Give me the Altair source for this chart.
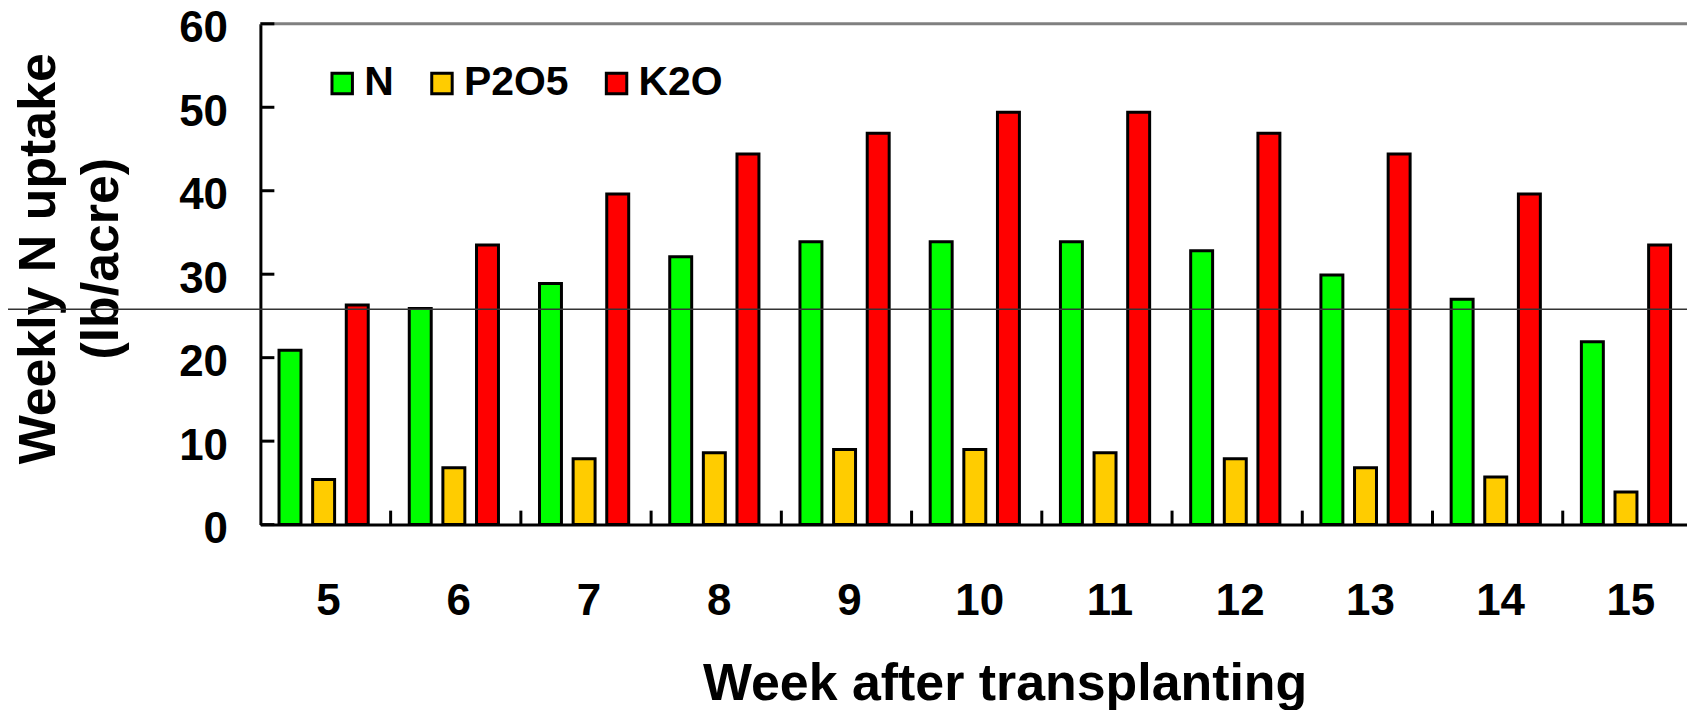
import altair as alt
import pandas as pd

weeks = ["5", "6", "7", "8", "9", "10", "11", "12", "13", "14", "15"]
n_vals = [20.9, 25.9, 28.9, 32.1, 33.9, 33.9, 33.9, 32.8, 29.9, 27.0, 21.9]
p_vals = [5.4, 6.8, 7.9, 8.6, 9.0, 9.0, 8.6, 7.9, 6.8, 5.7, 3.9]
k_vals = [26.3, 33.5, 39.6, 44.4, 46.9, 49.4, 49.4, 46.9, 44.4, 39.6, 33.5]
nutrients = ["N", "P2O5", "K2O"]
colors = ["#00FF00", "#FFCC00", "#FF0000"]
y_ticks = [0, 10, 20, 30, 40, 50, 60]
top_line = [60]
stray_line = [25.8]

FONT = "Liberation Sans"
W, H = 1430, 502
XR = 1436

rows = []
for i, w in enumerate(weeks):
    rows.append({"week": w, "nutrient": "N", "value": n_vals[i]})
    rows.append({"week": w, "nutrient": "P2O5", "value": p_vals[i]})
    rows.append({"week": w, "nutrient": "K2O", "value": k_vals[i]})
df = pd.DataFrame(rows)

x_axis = alt.Axis(
    title="Week after transplanting", labelAngle=0, ticks=False, tickSize=0, grid=False,
    domainColor="black", domainWidth=3,
    labelFont=FONT, labelFontSize=44, labelFontWeight="bold", labelColor="black",
    labelPadding=90, labelBaseline="alphabetic", labelOffset=3,
    titleFont=FONT, titleFontSize=52, titleFontWeight="bold", titleColor="black",
    titleX=746, titleY=175, titleAlign="center", titleBaseline="alphabetic",
)
y_axis = alt.Axis(
    title=["Weekly N uptake", "(lb/acre)"], values=y_ticks, ticks=False, tickSize=0, grid=False,
    domainColor="black", domainWidth=3,
    labelFont=FONT, labelFontSize=44, labelFontWeight="bold", labelColor="black",
    labelPadding=33, labelBaseline="alphabetic", labelOffset=18, labelOverlap=False,
    titleFont=FONT, titleFontSize=52, titleFontWeight="bold", titleColor="black",
    titleAngle=270, titleAlign="center", titleBaseline="alphabetic",
    titleX=-206, titleY=235, titleLineHeight=63,
)
x_scale = alt.Scale(paddingInner=0, paddingOuter=0, range=[0, XR])
y_scale = alt.Scale(domain=[0, 60], nice=False)

base = alt.Chart(df)

bars = base.mark_bar(stroke="black", strokeWidth=3).encode(
    x=alt.X("week:O", sort=weeks, scale=x_scale, axis=x_axis),
    xOffset=alt.XOffset("nutrient:N", sort=nutrients,
                        scale=alt.Scale(paddingInner=0.347, paddingOuter=0.61, align=0.454)),
    y=alt.Y("value:Q", scale=y_scale, axis=y_axis),
    color=alt.Color(
        "nutrient:N", sort=nutrients,
        scale=alt.Scale(domain=nutrients, range=colors),
        legend=alt.Legend(
            title=None, orient="none", legendX=61.5, legendY=39, direction="horizontal",
            symbolType="square", symbolSize=420, symbolStrokeColor="black",
            symbolStrokeWidth=3, symbolOpacity=1,
            labelFont=FONT, labelFontSize=41, labelFontWeight="bold", labelColor="black",
            labelOffset=1.5, columnPadding=27, padding=0,
        ),
    ),
)

top_rule = alt.Chart(pd.DataFrame({"value": top_line})).mark_rule(
    color="#808080", strokeWidth=3
).encode(
    y=alt.Y("value:Q", scale=y_scale, axis=y_axis),
    x=alt.value(0), x2=alt.value(XR),
)

y_tick_marks = alt.Chart(pd.DataFrame({"value": y_ticks})).mark_rule(
    color="black", strokeWidth=3
).encode(
    y=alt.Y("value:Q", scale=y_scale, axis=y_axis),
    x=alt.value(0), x2=alt.value(14),
)

x_tick_marks = alt.Chart(pd.DataFrame({"week": weeks[1:]})).mark_rule(
    color="black", strokeWidth=3
).encode(
    x=alt.X("week:O", sort=weeks, scale=x_scale, axis=x_axis, bandPosition=0),
    y=alt.value(H - 14), y2=alt.value(H),
)

stray = alt.Chart(pd.DataFrame({"value": stray_line})).mark_rule(
    color="#333333", strokeWidth=1.3
).encode(
    y=alt.Y("value:Q", scale=y_scale, axis=y_axis),
    x=alt.value(-253), x2=alt.value(XR),
)

chart = alt.layer(top_rule, bars, y_tick_marks, x_tick_marks, stray).properties(
    width=W, height=H,
    padding={"left": 253, "top": 15, "right": 0, "bottom": 185},
    autosize=alt.AutoSizeParams(type="none"),
    background="white",
).configure_view(stroke=None)

chart.save("out.html", embed_options={"renderer": "svg", "actions": False})
